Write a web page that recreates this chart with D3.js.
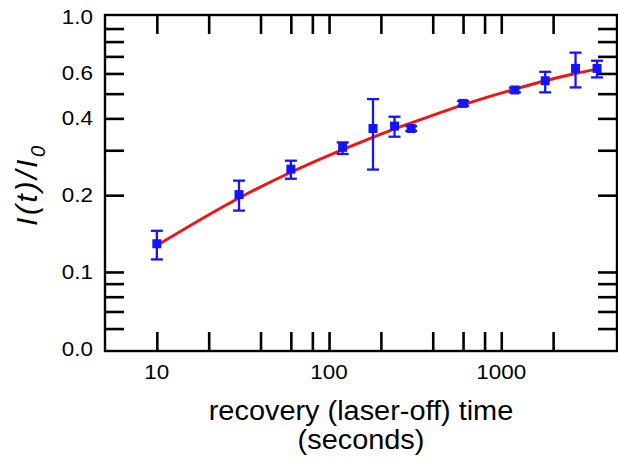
<!DOCTYPE html>
<html>
<head>
<meta charset="utf-8">
<script src="https://cdn.jsdelivr.net/npm/d3@7"></script>
<style>
  body { margin: 0; background: #fff; }
  text { font-family: "Liberation Sans", Arial, sans-serif; fill: #000; }
</style>
</head>
<body>
<svg width="618" height="463"></svg>
<script>
// measured recovery points (time in s, normalised intensity)
const times  = [10, 30, 60, 120, 180, 240, 300, 600, 1200, 1800, 2700, 3600];
const values = [0.129, 0.201, 0.253, 0.308, 0.365, 0.373, 0.365, 0.458, 0.517, 0.562, 0.628, 0.628];
const errLow  = [0.112, 0.174, 0.232, 0.290, 0.252, 0.339, 0.357, 0.448, 0.506, 0.506, 0.529, 0.579];
const errHigh = [0.145, 0.228, 0.273, 0.322, 0.476, 0.406, 0.373, 0.468, 0.528, 0.609, 0.724, 0.673];

// fitted curve
const fitTimes  = [10, 30, 60, 120, 180, 240, 300, 600, 1200, 1800, 2700, 3600];
const fitValues = [0.127, 0.195, 0.246, 0.302, 0.337, 0.364, 0.384, 0.452, 0.521, 0.562, 0.600, 0.624];

// ticks
const xTicks = [10, 20, 40, 60, 80, 100, 200, 400, 600, 800, 1000, 2000];
const xLabels = [10, 100, 1000];
const yTicks = [0.06, 0.07, 0.08, 0.09, 0.1, 0.2, 0.3, 0.4, 0.5, 0.6, 0.7, 0.8, 0.9];
const yLabels = [0.05, 0.1, 0.2, 0.4, 0.6, 1.0];

const svg = d3.select('svg');
const margin = { top: 15, right: 1, bottom: 112, left: 105 };
const width = +svg.attr('width');
const height = +svg.attr('height');
const innerWidth = width - margin.left - margin.right;
const innerHeight = height - margin.top - margin.bottom;

const xScale = d3.scaleLog().domain([5, 4700]).range([margin.left, margin.left + innerWidth]);
const yScale = d3.scaleLog().domain([0.049, 1.017]).range([margin.top + innerHeight, margin.top]);

const tickLen = 19;
const fmt = d3.format('.1f');

// the original lettering is a bit wider than Liberation Sans
const widen = (sel, k) => sel.each(function () {
  const w = this.getComputedTextLength();
  d3.select(this).attr('textLength', w * k).attr('lengthAdjust', 'spacingAndGlyphs');
});

// axes: ticks point inward, mirrored on the opposite side
const addAxis = (axis, transform) => {
  const ag = svg.append('g').attr('transform', transform).call(axis);
  ag.selectAll('.domain').remove();
  ag.selectAll('.tick text').remove();
  ag.selectAll('.tick line').attr('stroke', '#000').attr('stroke-width', 2.6);
};

addAxis(d3.axisBottom(xScale).tickValues(xTicks).tickSize(-tickLen),
  `translate(0, ${margin.top + innerHeight})`);
addAxis(d3.axisTop(xScale).tickValues(xTicks).tickSize(-tickLen),
  `translate(0, ${margin.top})`);
addAxis(d3.axisLeft(yScale).tickValues(yTicks).tickSize(-tickLen),
  `translate(${margin.left}, 0)`);
addAxis(d3.axisRight(yScale).tickValues(yTicks).tickSize(-tickLen),
  `translate(${margin.left + innerWidth}, 0)`);

// tick labels
svg.selectAll('.xlab').data(xLabels).enter().append('text')
  .attr('class', 'xlab')
  .attr('x', d => xScale(d))
  .attr('y', margin.top + innerHeight + 28)
  .attr('text-anchor', 'middle')
  .attr('font-size', 20)
  .text(d3.format('d'))
  .call(widen, 1.12);

svg.selectAll('.ylab').data(yLabels).enter().append('text')
  .attr('class', 'ylab')
  .attr('x', margin.left - 12)
  .attr('y', d => yScale(d) + 7)
  .attr('text-anchor', 'end')
  .attr('font-size', 20)
  .text(d => d === 0.05 ? '0.0' : fmt(d))
  .call(widen, 1.12);

// frame
svg.append('rect')
  .attr('x', margin.left)
  .attr('y', margin.top)
  .attr('width', innerWidth)
  .attr('height', innerHeight)
  .attr('fill', 'none')
  .attr('stroke', '#000')
  .attr('stroke-width', 2.4);

// fit line
const line = d3.line()
  .x(d => xScale(d[0]))
  .y(d => yScale(d[1]))
  .curve(d3.curveMonotoneX);

svg.append('path')
  .datum(fitTimes.map((t, i) => [t, fitValues[i]]))
  .attr('d', line)
  .attr('fill', 'none')
  .attr('stroke', '#f21414')
  .attr('stroke-width', 3);

// error bars + markers
const blue = '#1414ff';
const pts = times.map((t, i) => ({ t, v: values[i], lo: errLow[i], hi: errHigh[i] }));
const capW = 6;
const eb = svg.selectAll('.eb').data(pts).enter().append('g').attr('class', 'eb')
  .attr('stroke', blue).attr('stroke-width', 2.3);
eb.append('line')
  .attr('x1', d => xScale(d.t)).attr('x2', d => xScale(d.t))
  .attr('y1', d => yScale(d.lo)).attr('y2', d => yScale(d.hi));
eb.append('line')
  .attr('x1', d => xScale(d.t) - capW).attr('x2', d => xScale(d.t) + capW)
  .attr('y1', d => yScale(d.lo)).attr('y2', d => yScale(d.lo));
eb.append('line')
  .attr('x1', d => xScale(d.t) - capW).attr('x2', d => xScale(d.t) + capW)
  .attr('y1', d => yScale(d.hi)).attr('y2', d => yScale(d.hi));

const ms = 9;
svg.selectAll('.pt').data(pts).enter().append('rect')
  .attr('class', 'pt')
  .attr('x', d => xScale(d.t) - ms / 2)
  .attr('y', d => yScale(d.v) - ms / 2)
  .attr('width', ms)
  .attr('height', ms)
  .attr('fill', blue);

// axis titles
const cx = margin.left + innerWidth / 2;
svg.append('text')
  .attr('x', cx).attr('y', 420)
  .attr('text-anchor', 'middle')
  .attr('font-size', 27)
  .text('recovery (laser-off) time')
  .call(widen, 1.07);
svg.append('text')
  .attr('x', cx).attr('y', 449)
  .attr('text-anchor', 'middle')
  .attr('font-size', 27)
  .text('(seconds)')
  .call(widen, 1.07);

const yt = svg.append('text')
  .attr('transform', 'translate(37, 186) rotate(-90)')
  .attr('text-anchor', 'middle')
  .attr('font-size', 30)
  .attr('letter-spacing', 2.6)
  .attr('font-style', 'italic');
yt.append('tspan').text('I(t)/I');
yt.append('tspan').attr('font-size', 20).attr('dy', 8).attr('letter-spacing', 0).text('0');
</script>
</body>
</html>
